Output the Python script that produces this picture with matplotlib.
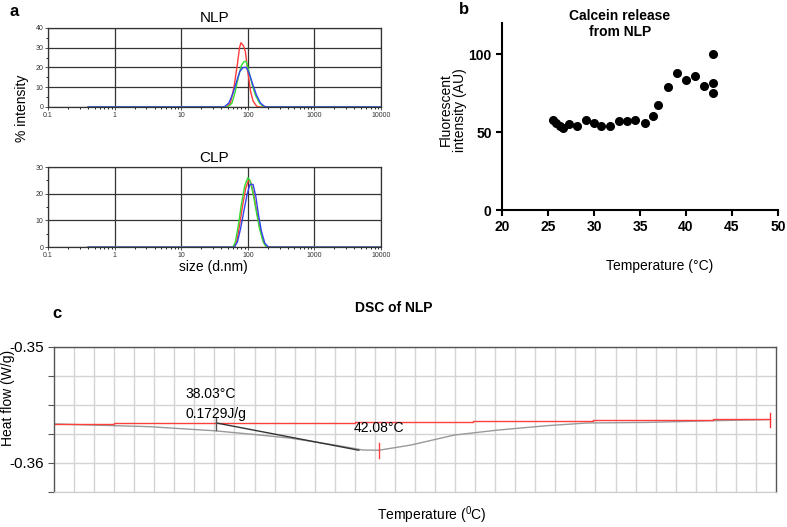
import numpy as np
import matplotlib
matplotlib.use("Agg")
import matplotlib.pyplot as plt
from matplotlib.ticker import FixedLocator, NullLocator

plt.rcParams['font.family'] = ['Liberation Sans', 'DejaVu Sans']
plt.rcParams['mathtext.fontset'] = 'custom'
plt.rcParams['mathtext.rm'] = 'Liberation Sans'

# ---- panel a: size distributions (d.nm vs % intensity) ----
nlp_red_size = [0.4, 48, 55, 62, 70, 75, 79, 86, 92, 100, 110, 120, 135, 145, 10000]
nlp_red_int = [0, 0, 2, 10, 22, 30, 32.5, 31, 28, 18, 8, 3, 0.5, 0, 0]
nlp_green_size = [0.4, 50, 58, 65, 72, 80, 88, 95, 102, 115, 130, 150, 170, 180, 10000]
nlp_green_int = [0, 0, 2, 8, 15, 21, 23, 23, 19, 12, 6, 2, 0.3, 0, 0]
nlp_blue_size = [0.4, 44, 52, 60, 68, 76, 85, 95, 105, 120, 135, 155, 175, 190, 10000]
nlp_blue_int = [0, 0, 2, 7, 13, 18, 20, 20, 17, 11, 6, 2, 0.5, 0, 0]

clp_red_size = [0.4, 62, 68, 75, 84, 93, 102, 110, 122, 137, 152, 172, 192, 10000]
clp_red_int = [0, 0, 2, 8, 16, 22, 25, 24.5, 20, 13, 7, 2, 0, 0]
clp_green_size = [0.4, 60, 65, 72, 80, 90, 100, 108, 120, 135, 150, 170, 190, 10000]
clp_green_int = [0, 0, 2, 8, 16, 23, 26, 25, 20, 13, 7, 2, 0, 0]
clp_blue_size = [0.4, 63, 70, 78, 88, 98, 108, 120, 132, 145, 160, 180, 205, 10000]
clp_blue_int = [0, 0, 2, 7, 14, 20, 23.5, 23.5, 19, 12, 6, 1.5, 0, 0]

size_ticks = [0.1, 1, 10, 100, 1000, 10000]
size_labels = ['0.1', '1', '10', '100', '1000', '10000']

# ---- panel b: calcein release ----
calcein_temp = [25.5, 25.9, 26.3, 26.6, 27.3, 28.2, 29.1, 30.0, 30.8, 31.7,
                32.7, 33.6, 34.5, 35.5, 36.4, 37.0, 38.0, 39.0, 40.0, 41.0,
                42.0, 42.9, 42.9, 42.9]
calcein_int = [58, 55.6, 53.8, 52.4, 55.1, 53.8, 58, 56, 53.8, 53.8,
               57, 57, 58, 56, 60.5, 67.7, 79, 88, 83.3, 85.9,
               79.7, 100, 81.2, 75.2]

# ---- panel c: DSC ----
dsc_temp = [34.0, 35.5, 36.4, 37.2, 38.0, 39.07, 39.9, 41.0, 41.7, 42.1,
            42.9, 43.98, 45.07, 46.3, 47.3, 48.8, 50.5, 51.8]
dsc_flow = [-0.35663, -0.35678, -0.35687, -0.35705, -0.35722, -0.35757, -0.35786, -0.35845,
            -0.35888, -0.35890, -0.35845, -0.35759, -0.35716, -0.35678, -0.35655, -0.3565,
            -0.35635, -0.35626]
base_temp = [34.0, 35.5, 41.5, 44.44, 47.44, 50.44, 51.85]
base_flow = [-0.35663, -0.35655, -0.35643, -0.35635, -0.35626, -0.3562, -0.3562]
tangent_temp = [38.05, 41.6]
tangent_flow = [-0.35655, -0.3589]
onset_temp, peak_temp, end_temp = 38.05, 42.1, 51.85

fig = plt.figure(figsize=(7.87, 5.27), dpi=100)


def size_axes(rect, ymax, red, green, blue, title):
    ax = fig.add_axes(rect)
    ax.set_xscale('log')
    ax.set_xlim(0.1, 10000)
    ax.set_ylim(0, ymax)
    for (s, v), c in zip([red, green, blue], ['#ff3b3b', '#33dd33', '#3344ee']):
        ax.plot(s, v, color=c, lw=1.0)
    ax.xaxis.set_major_locator(FixedLocator(size_ticks))
    ax.set_xticklabels(size_labels)
    ax.set_yticks(np.arange(0, ymax + 1, 10))
    ax.set_yticks(np.arange(5, ymax, 10), minor=True)
    ax.tick_params(labelsize=5, colors='#333333', length=2, width=0.6, pad=1.5)
    ax.tick_params(which='minor', length=1.5, width=0.6)
    ax.grid(True, which='major', color='#333333', lw=0.9)
    for sp in ax.spines.values():
        sp.set_color('#333333')
        sp.set_linewidth(0.9)
    ax.set_title(title, fontsize=11, pad=4)
    return ax


ax1 = size_axes([0.061, 0.797, 0.4231, 0.150], 40,
                (nlp_red_size, nlp_red_int), (nlp_green_size, nlp_green_int),
                (nlp_blue_size, nlp_blue_int), 'NLP')
ax2 = size_axes([0.061, 0.531, 0.4231, 0.152], 30,
                (clp_red_size, clp_red_int), (clp_green_size, clp_green_int),
                (clp_blue_size, clp_blue_int), 'CLP')
fig.text(22 / 787, 1 - 108 / 527, '% intensity', rotation=90, fontsize=10,
         ha='center', va='center')
fig.text(213 / 787, 1 - 267 / 527, 'size (d.nm)', fontsize=10, ha='center', va='center')
fig.text(10 / 787, 1 - 12 / 527, 'a', fontsize=12, fontweight='bold', ha='left', va='center')

# panel b
axb = fig.add_axes([502 / 787, 1 - 210 / 527, 276 / 787, 187 / 527])
axb.plot(calcein_temp, calcein_int, 'o', color='black', ms=5.5, clip_on=False)
axb.set_xlim(20, 50)
axb.set_ylim(0, 120)
axb.set_xticks(np.arange(20, 51, 5))
axb.set_yticks([0, 50, 100])
axb.spines['top'].set_visible(False)
axb.spines['right'].set_visible(False)
for sp in ['left', 'bottom']:
    axb.spines[sp].set_linewidth(1.5)
axb.tick_params(width=1.5, length=4, labelsize=10)
for lab in axb.get_xticklabels() + axb.get_yticklabels():
    lab.set_fontweight('bold')
fig.text(620 / 787, 1 - 24 / 527, 'Calcein release\nfrom NLP', fontsize=10,
         fontweight='bold', ha='center', va='center', linespacing=1.2)
fig.text(453 / 787, 1 - 110 / 527, 'Fluorescent\nintensity (AU)', rotation=90,
         fontsize=10, ha='center', va='center', linespacing=1.05)
fig.text(660 / 787, 1 - 266 / 527, 'Temperature (°C)', fontsize=10, ha='center', va='center')
fig.text(464 / 787, 1 - 10 / 527, 'b', fontsize=12, fontweight='bold', ha='center', va='center')

# panel c
axc = fig.add_axes([54 / 787, 1 - 492 / 527, 722 / 787, 145 / 527])
axc.set_xlim(34, 52)
axc.set_ylim(-0.3625, -0.35)
axc.plot(dsc_temp, dsc_flow, color='#999999', lw=1.0)
axc.plot(base_temp, base_flow, color='#ff4040', lw=1.0, drawstyle='steps-post')
axc.plot(tangent_temp, tangent_flow, color='#333333', lw=1.0)
axc.plot([onset_temp, onset_temp], [-0.3560, -0.35713], color='#555555', lw=1.0)
axc.plot([peak_temp, peak_temp], [-0.35826, -0.35957], color='#ff4040', lw=1.0)
axc.plot([end_temp, end_temp], [-0.35565, -0.35687], color='#ff3030', lw=1.0)
axc.xaxis.set_major_locator(NullLocator())
axc.xaxis.set_minor_locator(FixedLocator(np.arange(34.5, 52, 0.5)))
axc.yaxis.set_major_locator(FixedLocator([-0.36, -0.35]))
axc.yaxis.set_minor_locator(FixedLocator([-0.3625, -0.3575, -0.355, -0.3525]))
axc.set_yticklabels(['-0.36', '-0.35'])
axc.tick_params(axis='x', which='both', length=0)
axc.tick_params(axis='y', which='both', length=4, width=0.8, color='#555555', labelsize=11)
axc.grid(True, which='both', color='#d4d4d4', lw=1.0)
axc.set_axisbelow(True)
for sp in ['left', 'top', 'right']:
    axc.spines[sp].set_color('#555555')
    axc.spines[sp].set_linewidth(1.0)
axc.spines['bottom'].set_color('#cccccc')
axc.text(37.27, -0.35409, '38.03°C', fontsize=10, ha='left', va='center')
axc.text(37.27, -0.35574, '0.1729J/g', fontsize=10, ha='left', va='center')
axc.text(41.48, -0.35696, '42.08°C', fontsize=10, ha='left', va='center')
fig.text(8 / 787, 1 - 398 / 527, 'Heat flow (W/g)', rotation=90, fontsize=10,
         ha='center', va='center')
fig.text(432 / 787, 1 - 515 / 527, 'Temperature ($^{0}$C)', fontsize=10, ha='center', va='center')
fig.text(394 / 787, 1 - 308 / 527, 'DSC of NLP', fontsize=10, fontweight='bold',
         ha='center', va='center')
fig.text(57 / 787, 1 - 313 / 527, 'c', fontsize=12, fontweight='bold', ha='center', va='center')

fig.savefig('out.png', dpi=100)
